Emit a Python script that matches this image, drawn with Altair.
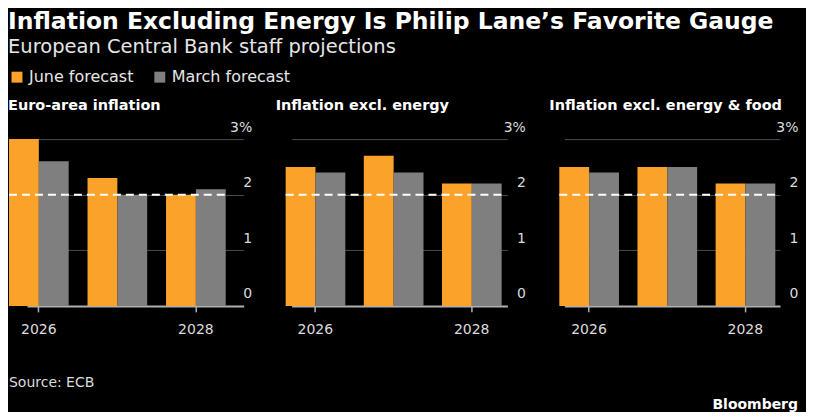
import altair as alt
import pandas as pd

# ---- data ----
years = ["2026", "2027", "2028"]
series = ["June forecast", "March forecast"]
panel_titles = ["Euro-area inflation", "Inflation excl. energy", "Inflation excl. energy & food"]

june_headline = [3.0, 2.3, 2.0]
march_headline = [2.6, 2.0, 2.1]
june_ex_energy = [2.5, 2.7, 2.2]
march_ex_energy = [2.4, 2.4, 2.2]
june_core = [2.5, 2.5, 2.2]
march_core = [2.4, 2.5, 2.2]

target = [2.0]
y_ticks = [0, 1, 2, 3]
x_label_years = ["2026", "2028"]

source_text = ["Source: ECB"]
brand_text = ["Bloomberg"]

ORANGE = "#fba22b"
GRAY = "#7f7f7f"
FONT = "DejaVu Sans"

panel_values = {
    panel_titles[0]: (june_headline, march_headline),
    panel_titles[1]: (june_ex_energy, march_ex_energy),
    panel_titles[2]: (june_core, march_core),
}

rows = []
for p in panel_titles:
    j, m = panel_values[p]
    for i, yr in enumerate(years):
        rows.append({"panel": p, "year": yr, "forecast": series[0], "value": j[i]})
        rows.append({"panel": p, "year": yr, "forecast": series[1], "value": m[i]})
df = pd.DataFrame(rows)

PLOT_H = 167


def make_panel(name, width, xrange):
    sub = df[df["panel"] == name]
    bars = alt.Chart(sub).mark_bar().encode(
        x=alt.X(
            "year:N",
            scale=alt.Scale(domain=years, range=xrange, paddingInner=0.24, paddingOuter=0),
            axis=alt.Axis(
                values=x_label_years, title=None, domain=False, labelAngle=0,
                ticks=True, tickSize=6, tickColor="#b0b0b0", tickWidth=1.5,
                labelFontSize=14, labelColor="#dcdcdc", labelFont=FONT, labelPadding=11,
                grid=False,
            ),
        ),
        xOffset=alt.XOffset("forecast:N", scale=alt.Scale(domain=series, paddingInner=0, paddingOuter=0)),
        y=alt.Y(
            "value:Q",
            scale=alt.Scale(domain=[0, 3], nice=False, zero=True),
            axis=alt.Axis(
                orient="right", values=y_ticks, title=None, domain=False, ticks=False, tickSize=0,
                labelAlign="right", labelPadding=8, labelBaseline="alphabetic", labelOffset=-8,
                labelFlush=False, labelFontSize=14, labelColor="#dcdcdc", labelFont=FONT,
                format="d",
                labelExpr="datum.value == 3 ? '3%' : datum.label",
                grid=True,
                gridColor={"condition": {"test": "datum.value === 0", "value": "#b0b0b0"}, "value": "#4a4a4a"},
                gridWidth={"condition": {"test": "datum.value === 0", "value": 2}, "value": 1},
            ),
        ),
        color=alt.Color(
            "forecast:N",
            scale=alt.Scale(domain=series, range=[ORANGE, GRAY]),
            legend=alt.Legend(title=None),
        ),
    )
    rule = alt.Chart(pd.DataFrame({"t": target})).mark_rule(
        color="#ffffff", strokeDash=[8, 5], strokeWidth=2
    ).encode(
        y=alt.datum(target[0]),
        x=alt.value(xrange[0]),
        x2=alt.value(xrange[1]),
    )
    return alt.layer(bars, rule).properties(
        width=width,
        height=PLOT_H,
        title=alt.TitleParams(
            name, anchor="start", font=FONT, fontSize=14.5, fontWeight="bold",
            color="#ffffff", offset=7,
        ),
    )


p1 = make_panel(panel_titles[0], 235, [0, 217])
p2 = make_panel(panel_titles[1], 242, [10, 226])
p3 = make_panel(panel_titles[2], 241, [10, 226])

panels = alt.hconcat(p1, p2, p3, spacing=24)

FOOT_W = 790
src = alt.Chart(pd.DataFrame({"t": source_text})).mark_text(
    align="left", baseline="alphabetic", font=FONT, fontSize=14, color="#dcdcdc"
).encode(text="t:N", x=alt.value(0), y=alt.value(50))
brand = alt.Chart(pd.DataFrame({"t": brand_text})).mark_text(
    align="right", baseline="alphabetic", font=FONT, fontSize=14, fontWeight="bold", color="#ffffff"
).encode(text="t:N", x=alt.value(FOOT_W), y=alt.value(72))
footer = alt.layer(src, brand).properties(width=FOOT_W, height=70)

chart = alt.vconcat(panels, footer, spacing=0).properties(
    title=alt.TitleParams(
        "Inflation Excluding Energy Is Philip Lane\u2019s Favorite Gauge",
        subtitle="European Central Bank staff projections",
        anchor="start", font=FONT, fontSize=23.5, fontWeight="bold", color="#ffffff",
        subtitleFont=FONT, subtitleFontSize=19.5, subtitleColor="#e6e6e6",
        subtitlePadding=4, offset=13,
    ),
    background="#000000",
    padding={"top": 2, "left": 0, "right": 8, "bottom": 0},
).configure_view(strokeWidth=0).configure_legend(
    orient="top", direction="horizontal", labelFont=FONT, labelFontSize=16,
    labelColor="#e6e6e6", symbolType="square", symbolSize=120, symbolStrokeWidth=0,
    symbolOpacity=1, columnPadding=18, padding=0, offset=12,
)

chart.save("out.html", embed_options={"renderer": "svg", "actions": False})
